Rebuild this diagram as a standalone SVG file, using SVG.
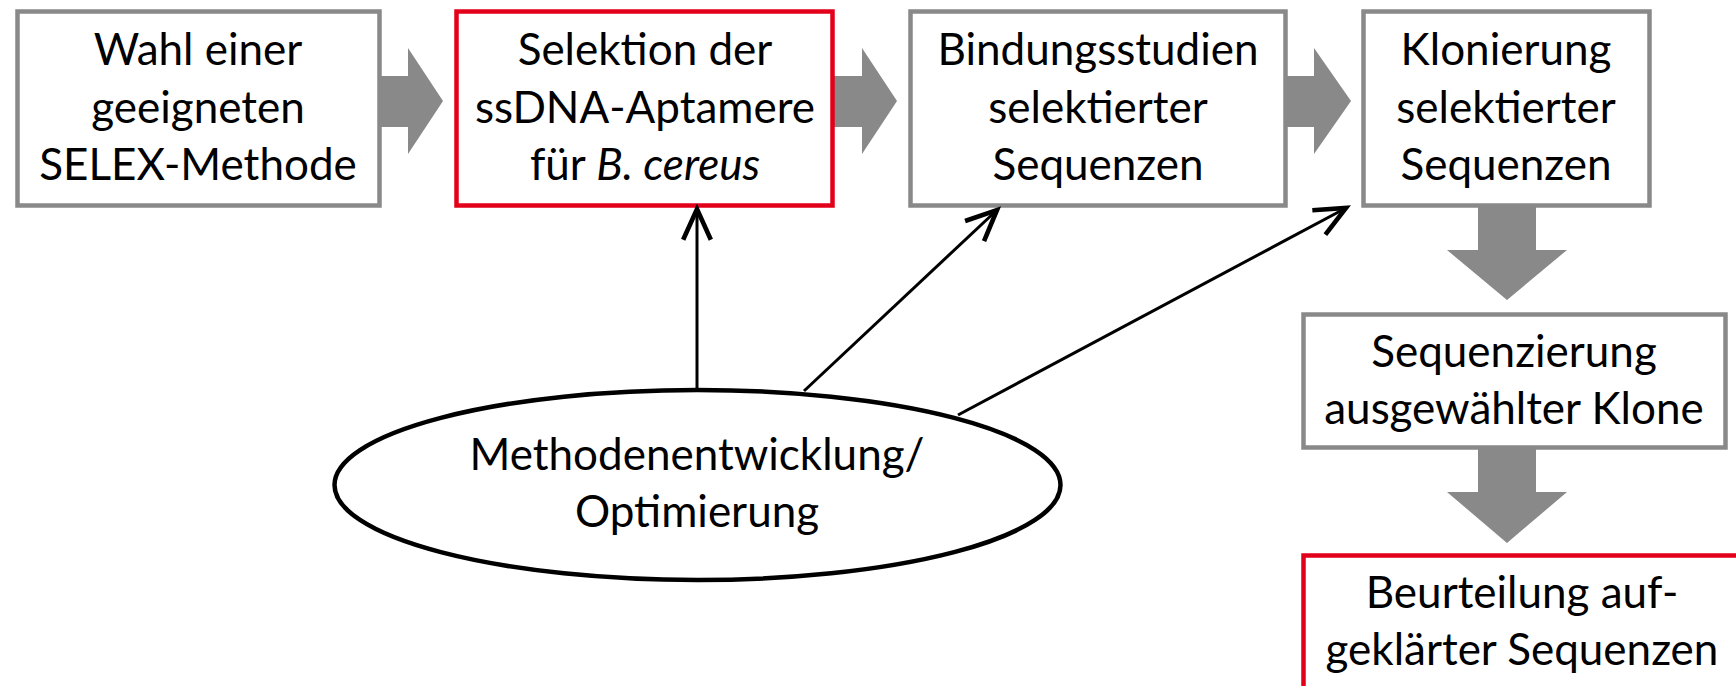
<svg xmlns="http://www.w3.org/2000/svg" width="1736" height="686" viewBox="0 0 1736 686">
<defs>
<style>
.box{fill:#ffffff;stroke:#898989;stroke-width:4.5}
.red{fill:#ffffff;stroke:#e3001b;stroke-width:4.5}
.blk{fill:#898989;stroke:none}
.t{font-family:Lato,"Open Sans",sans-serif;font-size:44px;fill:#000000;text-anchor:middle}
.con{fill:none;stroke:#000000;stroke-width:3}
</style>
<marker id="ah" markerUnits="userSpaceOnUse" markerWidth="40" markerHeight="40" viewBox="-22 -12 26 24" refX="0" refY="0" orient="auto" overflow="visible">
<path d="M-20,-9 L0,0 L-20,9" fill="none" stroke="#000000" stroke-width="3" stroke-linejoin="miter"/>
</marker>
</defs>
<rect width="1736" height="686" fill="#ffffff"/>
<g id="block-arrows">
<polygon class="blk" points="380,76 408,76 408,48 443,101 408,154 408,127 380,127"/>
<polygon class="blk" points="833,76 862,76 862,48 897,101 862,154 862,127 833,127"/>
<polygon class="blk" points="1286,76 1314,76 1314,48 1351,101 1314,154 1314,127 1286,127"/>
<polygon class="blk" points="1478,205 1536,205 1536,250 1567,250 1507,300 1447,250 1478,250"/>
<polygon class="blk" points="1478,448 1536,448 1536,492 1567,492 1507,543 1447,492 1478,492"/>
</g>
<g id="n1">
<rect class="box" x="17.5" y="11.5" width="362" height="194"/>
<text class="t" x="198" y="65">Wahl einer</text>
<text class="t" x="198" y="123">geeigneten</text>
<text class="t" x="198" y="180">SELEX-Methode</text>
</g>
<g id="n2">
<rect class="red" x="456.5" y="11.5" width="376" height="194"/>
<text class="t" x="645" y="65">Selektion der</text>
<text class="t" x="645" y="123">ssDNA-Aptamere</text>
<text class="t" x="645" y="180">für <tspan font-style="italic">B. cereus</tspan></text>
</g>
<g id="n3">
<rect class="box" x="910.5" y="11.5" width="375" height="194"/>
<text class="t" x="1098" y="65">Bindungsstudien</text>
<text class="t" x="1098" y="123">selektierter</text>
<text class="t" x="1098" y="180">Sequenzen</text>
</g>
<g id="n4">
<rect class="box" x="1363.5" y="11.5" width="286" height="194"/>
<text class="t" x="1506" y="65">Klonierung</text>
<text class="t" x="1506" y="123">selektierter</text>
<text class="t" x="1506" y="180">Sequenzen</text>
</g>
<g id="n5">
<rect class="box" x="1303.5" y="314.5" width="422" height="133"/>
<text class="t" x="1514" y="367">Sequenzierung</text>
<text class="t" x="1514" y="424">ausgewählter Klone</text>
</g>
<g id="n6">
<rect class="red" x="1303.5" y="555.5" width="440" height="200"/>
<text class="t" x="1522" y="608">Beurteilung auf-</text>
<text class="t" x="1522" y="665">geklärter Sequenzen</text>
</g>
<g id="n7">
<ellipse cx="697.5" cy="485" rx="363" ry="95" fill="#ffffff" stroke="#000000" stroke-width="4.5"/>
<text class="t" x="697" y="470">Methodenentwicklung/</text>
<text class="t" x="697" y="527">Optimierung</text>
</g>
<g id="connectors">
<path class="con" d="M697,388 L697,209" marker-end="url(#ah)"/>
<path class="con" d="M804,391 L997,210" marker-end="url(#ah)"/>
<path class="con" d="M958,415 L1346,208" marker-end="url(#ah)"/>
</g>
</svg>
